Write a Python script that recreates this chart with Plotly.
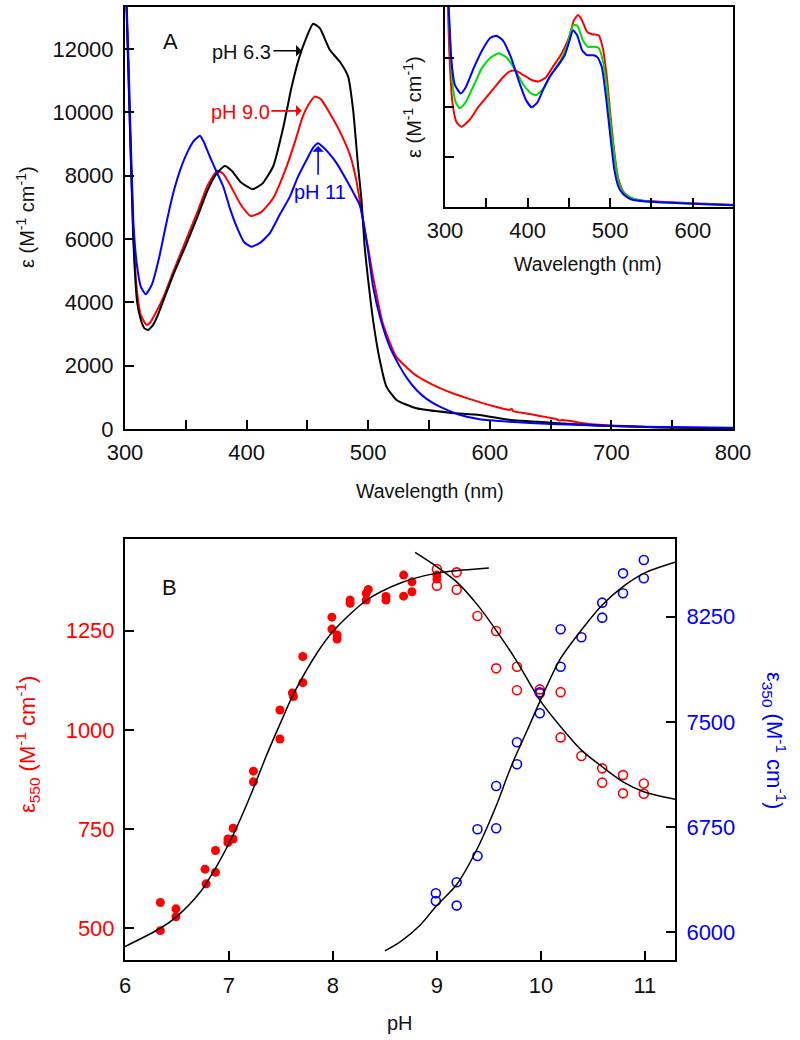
import plotly.graph_objects as go

# ---------------- Panel A: spectra ----------------
wl_black = [300, 303, 306.8, 310, 313, 316, 319, 323, 327, 332, 340, 350, 360, 368, 375, 382, 388, 395, 405, 413,
            421.9, 430, 437, 443, 449, 454.7, 460.2, 468.4, 476.7, 483.5, 487.6, 491.7, 494.5, 497, 500,
            504, 509.5, 515, 523.3, 539.7, 567, 591.7, 616, 650, 690, 740, 800]
eps_black = [15000, 11000, 6000, 4000, 3450, 3180, 3130, 3280, 3600, 4100, 4900, 5800, 6750, 7550, 8050, 8310,
             8150, 7800, 7575, 7750, 8300, 9500, 10800, 11700, 12350, 12800, 12660, 11980, 11600, 11130, 10080,
             8290, 7236, 5800, 4700, 3440, 2180, 1337, 916, 654, 516, 442, 290, 200, 110, 50, 20]

wl_red = [300, 303, 306.8, 310, 313, 317.8, 321, 325, 332, 340, 350, 360, 368, 375.9, 381, 388, 395,
          403.3, 412, 421.9, 432.9, 440, 446, 451, 456, 461, 468, 476, 485, 490, 494, 497, 500, 504, 512, 523,
          537, 545, 559, 570, 580, 592, 605, 616, 618, 619, 630, 640, 655, 657, 660, 680, 704, 730, 761, 800]
eps_red = [15000, 11000, 6200, 4300, 3600, 3290, 3380, 3650, 4200, 5000, 5950, 6900, 7700, 8160, 8050,
           7600, 7100, 6730, 6850, 7300, 8290, 9100, 9850, 10250, 10500, 10420, 10000, 9450, 8660, 7900, 7000,
           6300, 5700, 4810, 3340, 2285, 1760, 1560, 1290, 1120, 990, 840, 700, 600, 640, 570, 490, 420, 310,
           270, 285, 170, 105, 65, 40, 25]

wl_blue = [300, 303, 306.8, 309.6, 313, 317, 322, 328, 334, 340, 346, 352, 357, 361.6, 365, 369.8, 375,
           380.8, 386, 391.8, 398, 404, 411, 419, 427, 435.6, 442, 449.3, 455, 458.8, 463, 468, 474, 483.5, 488,
           493, 495.8, 500, 504, 510, 517.7, 526, 532, 539.7, 548, 558.8, 575, 591.7, 616, 650, 690, 740, 800]
eps_blue = [15000, 11500, 6600, 5240, 4500, 4256, 4550, 5400, 6500, 7500, 8250, 8800, 9120, 9260, 9050, 8600,
            8150, 7660, 7000, 6390, 5900, 5760, 5880, 6180, 6750, 7340, 7950, 8500, 8900, 9030, 8900, 8700, 8400,
            7770, 7450, 7080, 6600, 5600, 4500, 3500, 2600, 1970, 1600, 1232, 950, 705, 450, 306, 230, 160, 105,
            60, 40]

# ---------------- Inset: normalised spectra ----------------
in_wl_blue = [300, 304, 308, 312, 319, 325, 335, 345, 355, 362, 370, 380, 390, 398, 405, 412, 420, 428, 435,
              445, 450, 455, 460, 466, 472, 480, 485, 490, 495, 500, 505, 510, 516, 525, 540, 560, 600, 650]
in_blue = [6.0, 4.2, 2.9, 2.45, 2.28, 2.4, 2.8, 3.15, 3.4, 3.44, 3.35, 3.0, 2.5, 2.15, 2.0, 2.1, 2.4, 2.65, 2.8,
           3.05, 3.3, 3.55, 3.45, 3.15, 3.05, 3.05, 3.0, 2.8, 2.2, 1.45, 0.75, 0.4, 0.25, 0.15, 0.11, 0.09, 0.06,
           0.03]

in_wl_green = [300, 305, 309, 313, 318, 325, 335, 345, 355, 365, 375, 385, 395, 405, 411, 420, 430, 440, 448,
               455, 460, 467, 473, 480, 486, 491, 496, 501, 506, 511, 518, 530, 550, 600, 650]
in_green = [6.0, 3.8, 2.5, 2.1, 1.98, 2.1, 2.45, 2.8, 3.0, 3.09, 3.0, 2.75, 2.45, 2.27, 2.25, 2.4, 2.7, 2.95,
            3.25, 3.65, 3.65, 3.35, 3.22, 3.22, 3.2, 2.95, 2.4, 1.6, 0.9, 0.45, 0.25, 0.15, 0.1, 0.06, 0.03]

in_wl_red = [300, 305, 309, 314, 320, 330, 340, 350, 360, 370, 378, 385, 395, 405, 413, 422, 430, 440, 450, 456,
             461, 466, 472, 478, 486, 491, 496, 500, 505, 510, 516, 525, 540, 560, 600, 650]
in_red = [6.0, 3.2, 2.1, 1.7, 1.61, 1.75, 2.0, 2.2, 2.4, 2.6, 2.72, 2.74, 2.65, 2.55, 2.52, 2.6, 2.8, 3.05, 3.4,
          3.75, 3.86, 3.75, 3.52, 3.47, 3.45, 3.2, 2.6, 1.9, 1.1, 0.55, 0.3, 0.17, 0.12, 0.1, 0.07, 0.04]

# ---------------- Panel B: titration ----------------
ph_fill = [6.34, 6.34, 6.49, 6.49, 6.77, 6.78, 6.87, 6.87, 6.99, 6.99, 7.04, 7.04, 7.235, 7.235, 7.49, 7.49, 7.61,
           7.62, 7.71, 7.71, 7.99, 7.99, 8.04, 8.04, 8.165, 8.165, 8.32, 8.34, 8.32, 8.51, 8.51, 8.68, 8.68, 8.76,
           8.76, 9.0, 9.0]
eps550_fill = [565, 494, 549, 529, 649, 612, 696, 641, 725, 716, 752, 725, 896, 869, 1050, 977, 1093, 1084, 1185,
               1119, 1284, 1254, 1239, 1229, 1327, 1319, 1344, 1354, 1327, 1336, 1327, 1390, 1337, 1373, 1348,
               1390, 1380]

ph_open_r = [9.0, 9.0, 9.19, 9.19, 9.39, 9.57, 9.57, 9.77, 9.77, 9.99, 9.99, 10.19, 10.19, 10.39, 10.59, 10.59,
             10.79, 10.79, 10.99, 10.99]
eps550_open = [1405, 1363, 1397, 1353, 1287, 1249, 1155, 1159, 1100, 1102, 1092, 1095, 981, 934, 903, 867, 886,
               840, 865, 839]

ph_open_b = [8.99, 8.99, 9.19, 9.19, 9.39, 9.39, 9.57, 9.57, 9.77, 9.77, 9.99, 9.99, 10.19, 10.19, 10.39, 10.59,
             10.59, 10.79, 10.79, 10.99, 10.99]
eps350_open = [6278, 6223, 6356, 6190, 6734, 6544, 7043, 6741, 7355, 7198, 7711, 7561, 8160, 7893, 8103, 8350,
               8243, 8559, 8417, 8654, 8524]

fit1_ph = [6.0, 6.34, 6.5, 6.72, 6.9, 7.04, 7.2, 7.36, 7.5, 7.62, 7.85, 8.0, 8.32, 8.65, 9.0, 9.5]
fit1_eps = [454, 500, 530, 590, 665, 735, 830, 935, 1020, 1090, 1195, 1248, 1326, 1370, 1395, 1408]

fit2_ph = [8.79, 9.0, 9.19, 9.39, 9.58, 9.77, 9.99, 10.19, 10.39, 10.59, 10.79, 10.99, 11.29]
fit2_eps = [1447, 1411, 1373, 1315, 1247, 1172, 1075, 1008, 949, 907, 869, 844, 825]

fit3_ph = [8.5, 8.65, 8.84, 8.99, 9.19, 9.39, 9.58, 9.67, 9.74, 9.87, 9.99, 10.18, 10.39, 10.59, 10.79, 10.99,
           11.29]
fit3_eps = [5867, 5933, 6052, 6183, 6340, 6599, 6920, 7098, 7228, 7442, 7644, 7941, 8155, 8333, 8464, 8559, 8638]

RED = "#ff0000"
BLUE = "#0000ff"
GREEN = "#00dd00"
FONT = "Liberation Sans, Arial, sans-serif"

fig = go.Figure()


def spec(x, y, color, xa, ya, w=2):
    fig.add_trace(go.Scatter(x=x, y=y, mode="lines", xaxis=xa, yaxis=ya, showlegend=False,
                             line=dict(color=color, width=w, shape="spline", smoothing=0.5)))


spec(wl_red, eps_red, RED, "x", "y")
spec(wl_black, eps_black, "black", "x", "y")
spec(wl_blue, eps_blue, BLUE, "x", "y")

spec(in_wl_red, in_red, RED, "x2", "y2")
spec(in_wl_green, in_green, GREEN, "x2", "y2")
spec(in_wl_blue, in_blue, BLUE, "x2", "y2")

fig.add_trace(go.Scatter(x=ph_fill, y=eps550_fill, mode="markers", xaxis="x3", yaxis="y3", showlegend=False,
                         marker=dict(color=RED, size=9, line=dict(width=0))))
fig.add_trace(go.Scatter(x=ph_open_r, y=eps550_open, mode="markers", xaxis="x3", yaxis="y3", showlegend=False,
                         marker=dict(symbol="circle-open", color=RED, size=9, line=dict(width=1.6))))
fig.add_trace(go.Scatter(x=fit1_ph, y=fit1_eps, mode="lines", xaxis="x3", yaxis="y3", showlegend=False,
                         line=dict(color="black", width=1.5, shape="spline", smoothing=0.8)))
fig.add_trace(go.Scatter(x=fit2_ph, y=fit2_eps, mode="lines", xaxis="x3", yaxis="y3", showlegend=False,
                         line=dict(color="black", width=1.5, shape="spline", smoothing=0.8)))
fig.add_trace(go.Scatter(x=ph_open_b, y=eps350_open, mode="markers", xaxis="x3", yaxis="y4", showlegend=False,
                         marker=dict(symbol="circle-open", color=BLUE, size=9, line=dict(width=1.6))))
fig.add_trace(go.Scatter(x=fit3_ph, y=fit3_eps, mode="lines", xaxis="x3", yaxis="y4", showlegend=False,
                         line=dict(color="black", width=1.5, shape="spline", smoothing=0.8)))

W, H = 800, 1040


def px(x):
    return x / W


def py(y):
    return 1 - y / H


tickfont = dict(family=FONT, size=22, color="#111111")
common = dict(ticks="inside", ticklen=9, tickwidth=1.5, tickcolor="black", showline=True, linecolor="black",
              linewidth=2, showgrid=False, zeroline=False, automargin=False)

wl_ticks = list(range(300, 801, 50))
wl_text = [str(v) if v % 100 == 0 else "" for v in wl_ticks]
in_ticks = list(range(300, 651, 50))
in_text = [str(v) if v % 100 == 0 else "" for v in in_ticks]
epsA_ticks = list(range(0, 12001, 2000))
epsA_text = [str(v) for v in epsA_ticks]
ph_ticks = [6, 7, 8, 9, 10, 11]
e550_ticks = [500, 750, 1000, 1250]
e350_ticks = [6000, 6750, 7500, 8250]

fig.update_layout(
    template="none",
    width=W, height=H, margin=dict(l=0, r=0, t=0, b=0, pad=0, autoexpand=False),
    paper_bgcolor="white", plot_bgcolor="white",
    font=dict(family=FONT, size=20, color="#111111"),
    xaxis=dict(domain=[px(125), px(733)], anchor="y", range=[300, 800], tickvals=wl_ticks, ticktext=wl_text,
               mirror=True, tickfont=tickfont, ticklabelstandoff=3, **common),
    yaxis=dict(domain=[py(429), py(7)], anchor="x", range=[0, 13330], tickvals=epsA_ticks, ticktext=epsA_text,
               mirror=True, tickfont=tickfont, ticklabelstandoff=5, **common),
    xaxis2=dict(domain=[px(445), px(733)], anchor="y2", range=[300, 648.7], tickvals=in_ticks, ticktext=in_text,
                tickfont=tickfont, ticklabelstandoff=3, **common),
    yaxis2=dict(domain=[py(206.7), py(7)], anchor="x2", range=[0, 4.02], tickvals=[0, 1, 2, 3],
                showticklabels=False, **common),
    xaxis3=dict(domain=[px(125), px(675)], anchor="y3", range=[6, 11.29], tickvals=ph_ticks,
                ticktext=[str(v) for v in ph_ticks], mirror=True, tickfont=tickfont, ticklabelstandoff=5,
                **common),
    yaxis3=dict(domain=[py(960), py(539)], anchor="x3", range=[420, 1481], tickvals=e550_ticks,
                ticktext=[str(v) for v in e550_ticks], tickfont=dict(family=FONT, size=22, color=RED),
                ticklabelstandoff=4, **common),
    yaxis4=dict(overlaying="y3", anchor="x3", side="right", range=[5802, 8804], tickvals=e350_ticks,
                ticktext=[str(v) for v in e350_ticks], tickfont=dict(family=FONT, size=22, color=BLUE),
                ticklabelstandoff=5, **common),
)

ann = []


def text(x, y, s, color="#111111", angle=0, size=20, xanchor="center"):
    ann.append(dict(x=px(x), y=py(y), xref="paper", yref="paper", text=s, showarrow=False, textangle=angle,
                    font=dict(family=FONT, size=size, color=color), xanchor=xanchor, yanchor="middle"))


EPS = "ε (M<sup>-1</sup> cm<sup>-1</sup>)"
text(25, 217, EPS, angle=-90)
text(430, 491, "Wavelength (nm)", size=19.5)
text(413, 107, EPS, angle=-90)
text(588, 264, "Wavelength (nm)", size=19.5)
text(170, 42, "A", size=22)
text(169, 587, "B", size=22)
text(241, 52, "pH 6.3")
text(240, 112, "pH 9.0", color=RED)
text(320, 192, "pH 11", color=BLUE)
text(27, 745, "ε<sub>550</sub> (M<sup>-1</sup> cm<sup>-1</sup>)", color=RED, angle=-90, size=22)
text(775, 740, "ε<sub>350</sub> (M<sup>-1</sup> cm<sup>-1</sup>)", color=BLUE, angle=90, size=22)
text(400, 1023, "pH")

# arrows (data coordinates of panel A)
arrows = [
    (445.4, 11950, 420.8, 11950, "black"),
    (445.4, 10050, 419.1, 10050, RED),
    (458.8, 8940, 458.8, 7980, BLUE),
]
for hx, hy, tx, ty, c in arrows:
    ann.append(dict(x=hx, y=hy, ax=tx, ay=ty, xref="x", yref="y", axref="x", ayref="y", text="",
                    showarrow=True, arrowhead=1, arrowsize=1.2, arrowwidth=1.6, arrowcolor=c))

fig.update_layout(annotations=ann)

fig.write_html("out.html", post_script="document.body.style.margin='0';document.body.style.overflow='hidden';",
               config={"displayModeBar": False})
